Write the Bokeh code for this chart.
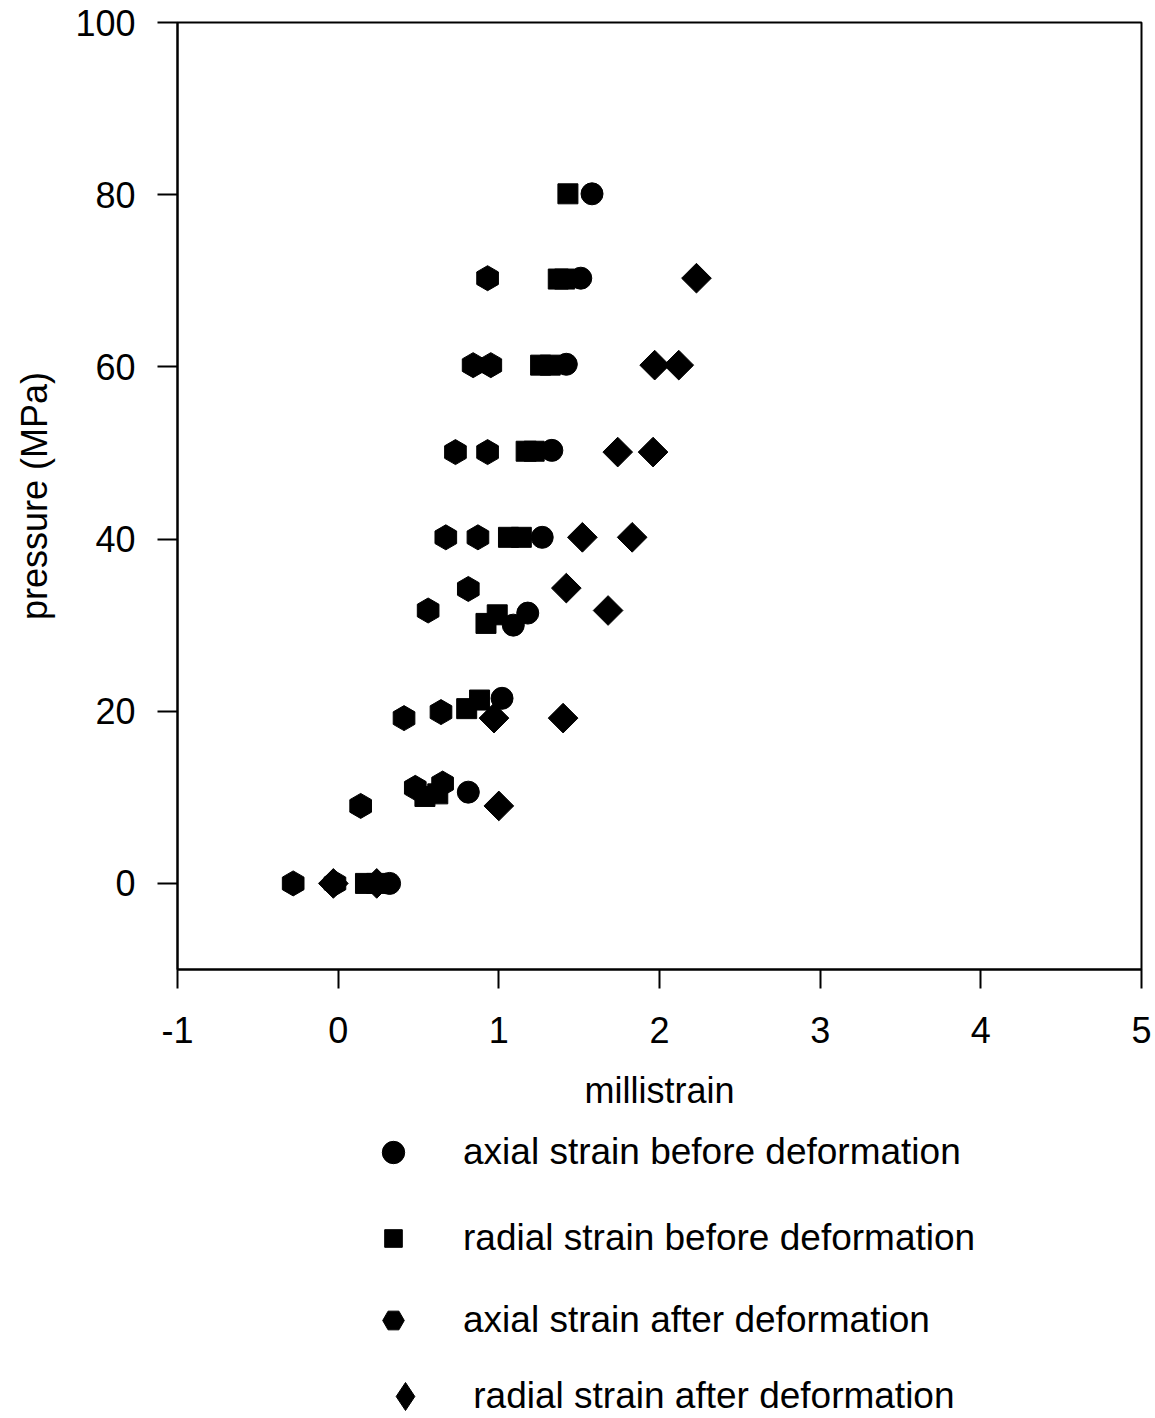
import numpy as np
from bokeh.plotting import figure
from bokeh.layouts import column
from bokeh.models import Range1d, FixedTicker, Legend, LegendItem
from bokeh.embed import file_html
from bokeh.resources import INLINE

FONT = "Liberation Sans"

# ---- data (millistrain vs pressure in MPa) ----
axial_before_x = [0.32, 0.81, 1.02, 1.09, 1.18, 1.27, 1.33, 1.42, 1.51, 1.58]
axial_before_p = [0.0, 10.6, 21.5, 30.0, 31.4, 40.2, 50.3, 60.3, 70.3, 80.1]

radial_before_x = [0.17, 0.24, 0.54, 0.62, 0.80, 0.88, 0.92, 0.99, 1.06, 1.14,
                   1.17, 1.22, 1.26, 1.32, 1.37, 1.41, 1.43]
radial_before_p = [0.0, 0.0, 10.1, 10.4, 20.3, 21.3, 30.2, 31.2, 40.2, 40.2,
                   50.2, 50.2, 60.2, 60.2, 70.2, 70.2, 80.1]

axial_after_x = [-0.28, -0.02, 0.14, 0.48, 0.65, 0.41, 0.64, 0.56, 0.81, 0.67,
                 0.87, 0.73, 0.93, 0.84, 0.95, 0.93]
axial_after_p = [0.0, 0.0, 9.0, 11.1, 11.6, 19.2, 19.9, 31.7, 34.2, 40.2,
                 40.2, 50.1, 50.1, 60.2, 60.2, 70.3]

radial_after_x = [-0.03, 0.24, 1.00, 0.97, 1.40, 1.42, 1.68, 1.52, 1.83, 1.74,
                  1.96, 1.97, 2.12, 2.23]
radial_after_p = [0.0, 0.0, 9.0, 19.2, 19.2, 34.3, 31.7, 40.2, 40.2, 50.1,
                  50.1, 60.2, 60.2, 70.3]

x_ticks = [-1, 0, 1, 2, 3, 4, 5]
y_ticks = [0, 20, 40, 60, 80, 100]

series_labels = ["axial strain before deformation",
                 "radial strain before deformation",
                 "axial strain after deformation",
                 " radial strain after deformation"]

p = figure(width=1155, height=1118,
           x_range=Range1d(-1, 5), y_range=Range1d(-10, 100),
           output_backend="svg", toolbar_location=None,
           min_border_left=177, min_border_right=14,
           min_border_top=22, min_border_bottom=149,
           background_fill_color="white", border_fill_color="white")
p.grid.visible = False
p.outline_line_color = "black"
p.outline_line_width = 2

for ax in (p.xaxis[0], p.yaxis[0]):
    ax.axis_line_width = 2
    ax.axis_line_color = "black"
    ax.major_tick_line_width = 2
    ax.major_tick_line_color = "black"
    ax.major_tick_in = 0
    ax.minor_tick_in = 0
    ax.minor_tick_out = 0
    ax.major_label_text_font = FONT
    ax.major_label_text_font_size = "36px"
    ax.major_label_text_color = "black"
    ax.axis_label_text_font = FONT
    ax.axis_label_text_font_size = "36px"
    ax.axis_label_text_font_style = "normal"
    ax.axis_label_text_color = "black"

p.xaxis.ticker = FixedTicker(ticks=x_ticks)
p.yaxis.ticker = FixedTicker(ticks=y_ticks)
p.xaxis.major_label_overrides = {-1: "-1"}
p.xaxis.major_tick_out = 19
p.yaxis.major_tick_out = 20
p.xaxis.major_label_standoff = 28
p.yaxis.major_label_standoff = 22
p.xaxis.axis_label = "millistrain"
p.yaxis.axis_label = "pressure (MPa)"
p.xaxis.axis_label_standoff = 24
p.yaxis.axis_label_standoff = 17

styles = [dict(marker="circle", angle=0.0, size=22),
          dict(marker="square", angle=0.0, size=20),
          dict(marker="hex", angle=np.pi / 2, size=25),
          dict(marker="square", angle=np.pi / 4, size=21)]
series_data = [(axial_before_x, axial_before_p),
               (radial_before_x, radial_before_p),
               (axial_after_x, axial_after_p),
               (radial_after_x, radial_after_p)]

for i in (3, 2, 0, 1):
    xs, ys = series_data[i]
    p.scatter(xs, ys, fill_color="black", line_color="black", **styles[i])

# ---- legend panel below the plot (its ranges lie away from the data,
#      so only the legend keys are visible there) ----
LG_H = 300
lg = figure(width=1155, height=LG_H, x_range=Range1d(10, 11), y_range=Range1d(1000, 1001),
            x_axis_type=None, y_axis_type=None,
            output_backend="svg", toolbar_location=None,
            min_border=0, outline_line_color=None,
            background_fill_color="white", border_fill_color="white")
lg.grid.visible = False

# legend key markers (legend keys are drawn unrotated)
key_markers = ["circle", "square", "hex", "diamond"]
key_box = [56, 44, 54, 70]          # key box -> marker size = 0.4 * box
key_cx = [393, 393, 393, 405]       # key centre, page px
key_cy = [1152, 1238, 1320, 1396]   # row centre, page px
text_x = [463, 463, 463, 463]
FRAME_LEFT = 177
PAGE_H = 1418

for lab, mk, box, cx, cy, tx, (xs, ys) in zip(series_labels, key_markers, key_box,
                                              key_cx, key_cy, text_x, series_data):
    r = lg.scatter(xs, ys, marker=mk, fill_color="black", line_color="black")
    half = box // 2
    leg = Legend(items=[LegendItem(label=lab, renderers=[r])],
                 location=(int(cx - half - FRAME_LEFT), int(PAGE_H - cy - half)),
                 glyph_width=box, glyph_height=box,
                 label_standoff=int(tx - cx - half),
                 label_text_font=FONT, label_text_font_size="37px",
                 label_text_color="black",
                 padding=0, margin=0, border_line_alpha=0,
                 background_fill_alpha=0)
    lg.add_layout(leg)

layout = column(p, lg, spacing=0)
open("out.html", "w").write(file_html(layout, INLINE))
